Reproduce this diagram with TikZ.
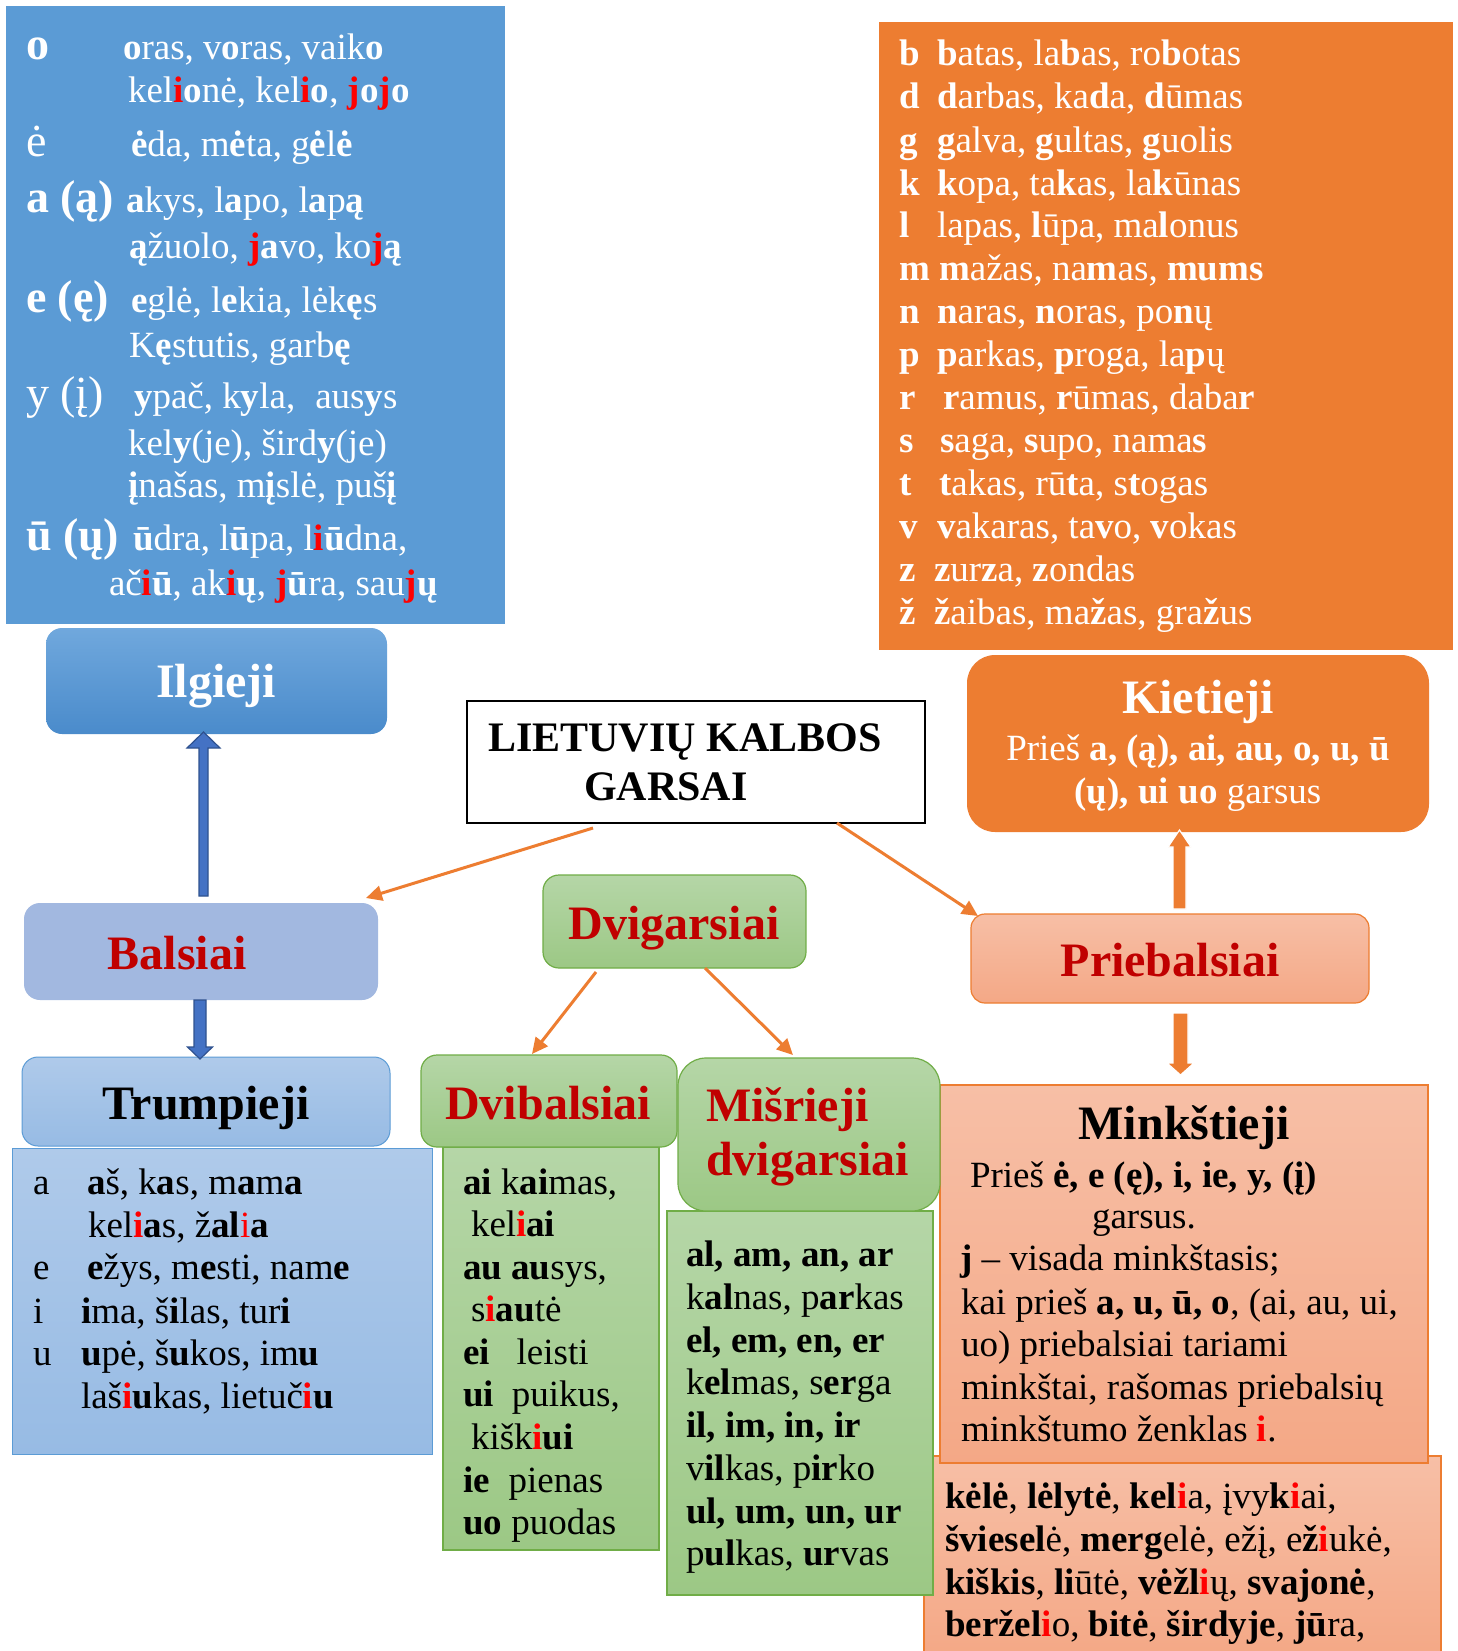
\documentclass[tikz,border=0pt]{standalone}
\usepackage{fontspec}
\setmainfont{Liberation Serif}
\usetikzlibrary{arrows.meta,calc}
\definecolor{vblue}{HTML}{5B9BD5}
\definecolor{ilgT}{HTML}{70A8DD}
\definecolor{ilgB}{HTML}{4A8BCB}
\definecolor{balsC}{HTML}{A2B8E0}
\definecolor{trT}{HTML}{AFCAEA}
\definecolor{trB}{HTML}{97BBE4}
\definecolor{grT}{HTML}{B5D6A7}
\definecolor{grB}{HTML}{9CC885}
\definecolor{grE}{HTML}{70AD47}
\definecolor{org}{HTML}{ED7D31}
\definecolor{slT}{HTML}{F7BFA6}
\definecolor{slB}{HTML}{F4A886}
\definecolor{dred}{HTML}{C00000}
\definecolor{bred}{HTML}{FF0000}
\definecolor{arrB}{HTML}{4472C4}
\definecolor{arrBE}{HTML}{2F528F}
\newcommand\fs[1]{\fontsize{#1}{#1}\selectfont}
\newcommand\bo[1]{\textbf{#1}}
\newcommand\rd[1]{\textcolor{bred}{\textbf{#1}}}
\newcommand\blockup[6]{\path[#1] let \p1=(#2), \p2=(#3) in
  (\x1-#4,\y1) -- (\x1-#4,\y2-#6) -- (\x1-#5,\y2-#6) -- (\x1,\y2) -- (\x1+#5,\y2-#6) -- (\x1+#4,\y2-#6) -- (\x1+#4,\y1) -- cycle;}
\newcommand\blockdown[6]{\path[#1] let \p1=(#2), \p2=(#3) in
  (\x1-#4,\y1) -- (\x1-#4,\y2+#6) -- (\x1-#5,\y2+#6) -- (\x1,\y2) -- (\x1+#5,\y2+#6) -- (\x1+#4,\y2+#6) -- (\x1+#4,\y1) -- cycle;}
\tikzset{
  pbox/.style={anchor=north west, inner sep=0pt, outer sep=0pt},
  greenbox/.style={top color=grT, bottom color=grB, draw=grE, line width=1.2pt},
  salmonbox/.style={top color=slT, bottom color=slB, draw=org, line width=1.2pt},
  lbluebox/.style={top color=trT, bottom color=trB, draw=vblue, line width=1pt},
  txt/.style={anchor=base west, inner sep=0pt, outer sep=0pt, font=\fs{37}},
  wtxt/.style={txt, text=white},
  ctxt/.style={anchor=base, inner sep=0pt, outer sep=0pt, font=\fs{37}},
  head/.style={anchor=base, inner sep=0pt, outer sep=0pt, font=\bfseries\fs{48}},
  lab/.style={anchor=base west, inner sep=0pt, outer sep=0pt, font=\fs{46}, text=white},
  conn/.style={draw=org, line width=3pt, -{Triangle[length=16pt,width=15pt]}},
  barrB/.style={fill=arrB, draw=arrBE, line width=1.2pt},
  barrO/.style={fill=org, draw=white, line width=1.2pt},
}
\begin{document}
\begin{tikzpicture}[x=1pt,y=-1pt]
\useasboundingbox (0,0) rectangle (1458,1651);
\fill[white] (0,0) rectangle (1458,1651);

% ---------- boxes ----------
\node[pbox, minimum width=499pt, minimum height=618pt, fill=vblue] (vbox) at (6,6) {};
\node[pbox, minimum width=574pt, minimum height=628pt, fill=org] (obox) at (879,22) {};
\node[pbox, minimum width=341pt, minimum height=106pt, rounded corners=16pt, top color=ilgT, bottom color=ilgB] (ilg) at (46,628) {};
\node[pbox, minimum width=462pt, minimum height=177pt, rounded corners=28pt, fill=org] (kiet) at (967,655) {};
\node[pbox, minimum width=458pt, minimum height=122pt, draw=black, line width=1.5pt, fill=white] (title) at (467,701) {};
\node[pbox, minimum width=354pt, minimum height=97pt, rounded corners=16pt, fill=balsC] (bals) at (24,903) {};
\node[pbox, minimum width=263pt, minimum height=93pt, rounded corners=16pt, greenbox] (dvig) at (543,875) {};
\node[pbox, minimum width=398pt, minimum height=89pt, rounded corners=14pt, salmonbox] (prieb) at (971,914) {};
\node[pbox, minimum width=368pt, minimum height=89pt, rounded corners=16pt, lbluebox] (trh) at (22,1057) {};
\node[pbox, minimum width=420pt, minimum height=306pt, lbluebox] (trc) at (12,1148) {};
\node[pbox, minimum width=517pt, minimum height=200pt, salmonbox] (ex) at (924,1456) {};
\node[pbox, minimum width=488pt, minimum height=378pt, salmonbox] (mink) at (940,1085) {};
\node[pbox, minimum width=216pt, minimum height=403pt, greenbox] (dvbc) at (443,1147) {};
\node[pbox, minimum width=256pt, minimum height=92pt, rounded corners=16pt, greenbox] (dvbh) at (421,1055) {};
\node[pbox, minimum width=266pt, minimum height=384pt, greenbox] (misc) at (667,1211) {};
\node[pbox, minimum width=262pt, minimum height=153pt, rounded corners=28pt, greenbox] (mish) at (678,1058) {};

% ---------- connectors ----------
\draw[conn] ([xshift=-103pt,yshift=-5pt]title.south) -- ([xshift=-12pt,yshift=5pt]bals.north east);
\draw[conn] ([xshift=141pt]title.south) -- ([xshift=7pt,yshift=-2pt]prieb.north west);
\draw[conn] ([xshift=-78.5pt,yshift=-4pt]dvig.south) -- ([xshift=-17pt,yshift=1pt]dvbh.north);
\draw[conn] ([xshift=30.5pt]dvig.south) -- ([xshift=-16pt,yshift=3pt]mish.north);
\blockup{barrB}{[xshift=2.5pt,yshift=7pt]bals.north}{[yshift=2pt]ilg.south}{4.5pt}{16.5pt}{16pt}
\blockdown{barrB}{[xshift=-1pt]bals.south}{[yshift=-2pt]trh.north}{6pt}{12.5pt}{12pt}
\blockup{barrO}{[xshift=9.5pt,yshift=5pt]prieb.north}{[yshift=2pt]kiet.south}{6.5pt}{11.5pt}{17pt}
\blockdown{barrO}{[xshift=10.5pt,yshift=-10pt]prieb.south}{[yshift=10pt]mink.north}{7.5pt}{13.5pt}{12pt}

% ---------- long vowels (blue box) ----------
\node[lab] (vl1) at (26,60) {\bfseries o};
\node[wtxt] (vw1) at (123,60) {\bo{o}ras, v\bo{o}ras, vaik\bo{o}};
\node[wtxt] (vw2) at (128,103) {kel\rd{i}\bo{o}nė, kel\rd{i}\bo{o}, \rd{j}\bo{o}\rd{j}\bo{o}};
\node[lab] (vl3) at (26,157) {ė};
\node[wtxt] (vw3) at (131,157) {\bo{ė}da, m\bo{ė}ta, g\bo{ė}l\bo{ė}};
\node[lab] (vl4) at (26,212) {\bfseries a (ą)};
\node[wtxt] (vw4) at (126,212) {\bo{a}kys, l\bo{a}po, l\bo{a}p\bo{ą}};
\node[wtxt] (vw5) at (129,258) {\bo{ą}žuolo, \rd{j}\bo{a}vo, ko\rd{j}\bo{ą}};
\node[lab] (vl6) at (26,312) {\bfseries e (ę)};
\node[wtxt] (vw6) at (131,312) {\bo{e}glė, l\bo{e}kia, lėk\bo{ę}s};
\node[wtxt] (vw7) at (129,357) {K\bo{ę}stutis, garb\bo{ę}};
\node[lab] (vl8) at (26,408) {y (į)};
\node[wtxt] (vw8) at (134,408) {\bo{y}pač, k\bo{y}la,\hspace{20pt}aus\bo{y}s};
\node[wtxt] (vw9) at (128,455) {kel\bo{y}(je), šird\bo{y}(je)};
\node[wtxt] (vw10) at (128,497) {\bo{į}našas, m\bo{į}slė, puš\bo{į}};
\node[lab] (vl11) at (26,550) {\bfseries ū (ų)};
\node[wtxt] (vw11) at (133,550) {\bo{ū}dra, l\bo{ū}pa, l\rd{i}\bo{ū}dna,};
\node[wtxt] (vw12) at (109,595) {ač\rd{i}\bo{ū}, ak\rd{i}\bo{ų}, \rd{j}\bo{ū}ra, sau\rd{j}\bo{ų}};

% ---------- consonants (orange box) ----------
\node[wtxt] (cl1) at (899,66) {\bo{b}};
\node[wtxt] (cw1) at (937,66) {\bo{b}atas, la\bo{b}as, ro\bo{b}otas};
\node[wtxt] (cl2) at (899,109) {\bo{d}};
\node[wtxt] (cw2) at (937,109) {\bo{d}arbas, ka\bo{d}a, \bo{d}ūmas};
\node[wtxt] (cl3) at (899,152) {\bo{g}};
\node[wtxt] (cw3) at (937,152) {\bo{g}alva, \bo{g}ultas, \bo{g}uolis};
\node[wtxt] (cl4) at (899,195) {\bo{k}};
\node[wtxt] (cw4) at (937,195) {\bo{k}opa, ta\bo{k}as, la\bo{k}ūnas};
\node[wtxt] (cl5) at (899,237) {\bo{l}};
\node[wtxt] (cw5) at (937,237) {lapas, \bo{l}ūpa, ma\bo{l}onus};
\node[wtxt] (cl6) at (899,280) {\bo{m}};
\node[wtxt] (cw6) at (939,280) {\bo{m}ažas, na\bo{m}as, \bo{mums}};
\node[wtxt] (cl7) at (899,323) {\bo{n}};
\node[wtxt] (cw7) at (937,323) {\bo{n}aras, \bo{n}oras, po\bo{n}ų};
\node[wtxt] (cl8) at (899,366) {\bo{p}};
\node[wtxt] (cw8) at (937,366) {\bo{p}arkas, \bo{p}roga, la\bo{p}ų};
\node[wtxt] (cl9) at (899,409) {\bo{r}};
\node[wtxt] (cw9) at (943,409) {\bo{r}amus, \bo{r}ūmas, daba\bo{r}};
\node[wtxt] (cl10) at (899,452) {\bo{s}};
\node[wtxt] (cw10) at (940,452) {\bo{s}aga, \bo{s}upo, nama\bo{s}};
\node[wtxt] (cl11) at (899,495) {\bo{t}};
\node[wtxt] (cw11) at (939,495) {\bo{t}akas, rū\bo{t}a, s\bo{t}ogas};
\node[wtxt] (cl12) at (899,538) {\bo{v}};
\node[wtxt] (cw12) at (937,538) {\bo{v}akaras, ta\bo{v}o, \bo{v}okas};
\node[wtxt] (cl13) at (899,581) {\bo{z}};
\node[wtxt] (cw13) at (934,581) {\bo{z}ur\bo{z}a, \bo{z}ondas};
\node[wtxt] (cl14) at (899,624) {\bo{ž}};
\node[wtxt] (cw14) at (934,624) {\bo{ž}aibas, ma\bo{ž}as, gra\bo{ž}us};

% ---------- headers ----------
\node[head, text=white] (tilg) at (216,697) {Ilgieji};
\node[anchor=base west, inner sep=0pt, font=\bfseries\fs{42}] (ttl1) at (488,751) {LIETUVIŲ KALBOS};
\node[anchor=base west, inner sep=0pt, font=\bfseries\fs{42}] (ttl2) at (584,800) {GARSAI};
\node[head, text=white] (tkiet) at (1198,713) {Kietieji};
\node[ctxt, text=white] (tkiet2) at (1198,760) {Prieš \bo{a, (ą), ai, au, o, u, ū}};
\node[ctxt, text=white] (tkiet3) at (1198,803) {\bo{(ų), ui uo} garsus};
\node[head, text=dred] (tbals) at (177,969) {Balsiai};
\node[head, text=dred] (tdvig) at (674,939) {Dvigarsiai};
\node[head, text=dred] (tprieb) at (1170,976) {Priebalsiai};
\node[head] (ttrh) at (206,1119) {Trumpieji};
\node[head, text=dred] (tdvbh) at (548,1119) {Dvibalsiai};
\node[head, anchor=base west, text=dred] (tmish1) at (706,1121) {Mišrieji};
\node[head, anchor=base west, text=dred] (tmish2) at (706,1175) {dvigarsiai};
\node[head] (tmink) at (1184,1139) {Minkštieji};

% ---------- short vowels ----------
\node[txt] (sl1) at (33,1194) {a};
\node[txt] (sw1) at (87,1194) {\bo{a}š, k\bo{a}s, m\bo{a}m\bo{a}};
\node[txt] (sw2) at (88,1237) {kel\rd{i}\bo{a}s, ž\bo{al}\textcolor{bred}{i}\bo{a}};
\node[txt] (sl3) at (33,1279) {e};
\node[txt] (sw3) at (87,1279) {\bo{e}žys, m\bo{e}sti, nam\bo{e}};
\node[txt] (sl4) at (33,1323) {i};
\node[txt] (sw4) at (81,1323) {\bo{i}ma, š\bo{i}las, tur\bo{i}};
\node[txt] (sl5) at (33,1365) {u};
\node[txt] (sw5) at (81,1365) {\bo{u}pė, š\bo{u}kos, im\bo{u}};
\node[txt] (sw6) at (81,1408) {laš\rd{i}\bo{u}kas, lietuč\rd{i}\bo{u}};

% ---------- diphthongs ----------
\node[txt] (dw1) at (463,1194) {\bo{ai} k\bo{ai}mas,};
\node[txt] (dw2) at (471,1236) {kel\rd{i}\bo{ai}};
\node[txt] (dw3) at (463,1279) {\bo{au} \bo{au}sys,};
\node[txt] (dw4) at (471,1321) {s\rd{i}\bo{au}tė};
\node[txt] (dw5) at (463,1364) {\bo{ei}\hspace{27pt}leisti};
\node[txt] (dw6) at (463,1406) {\bo{ui}\hspace{18pt}puikus,};
\node[txt] (dw7) at (471,1449) {kišk\rd{i}\bo{ui}};
\node[txt] (dw8) at (463,1492) {\bo{ie}\hspace{19pt}pienas};
\node[txt] (dw9) at (463,1534) {\bo{uo} puodas};

% ---------- mixed diphthongs ----------
\node[txt] (mw1) at (686,1266) {\bo{al, am, an, ar}};
\node[txt] (mw2) at (686,1309) {k\bo{al}nas, p\bo{ar}kas};
\node[txt] (mw3) at (686,1352) {\bo{el, em, en, er}};
\node[txt] (mw4) at (686,1394) {k\bo{el}mas, s\bo{er}ga};
\node[txt] (mw5) at (686,1437) {\bo{il, im, in, ir}};
\node[txt] (mw6) at (686,1480) {v\bo{il}kas, p\bo{ir}ko};
\node[txt] (mw7) at (686,1523) {\bo{ul, um, un, ur}};
\node[txt] (mw8) at (686,1565) {p\bo{ul}kas, \bo{ur}vas};

% ---------- soft consonants ----------
\node[txt] (kw1) at (970,1187) {Prieš \bo{ė, e (ę), i, ie, y, (į)}};
\node[txt] (kw2) at (1092,1228) {garsus.};
\node[txt] (kw3) at (960,1270) {\bo{j} – visada minkštasis;};
\node[txt] (kw4) at (961,1314) {kai prieš \bo{a, u, ū, o}, (ai, au, ui,};
\node[txt] (kw5) at (961,1356) {uo) priebalsiai tariami};
\node[txt] (kw6) at (961,1399) {minkštai, rašomas priebalsių};
\node[txt] (kw7) at (961,1441) {minkštumo ženklas \rd{i}.};

\node[txt] (ew1) at (945,1508) {\bo{kėlė}, \bo{lėlytė}, \bo{kel}\rd{i}a, įvy\bo{k}\rd{i}ai,};
\node[txt] (ew2) at (945,1551) {\bo{šviesel}ė, \bo{merg}elė, ežį, e\bo{ž}\rd{i}ukė,};
\node[txt] (ew3) at (945,1594) {\bo{kiškis}, \bo{li}ūtė, \bo{vėžl}\rd{i}ų, \bo{svajonė},};
\node[txt] (ew4) at (945,1636) {\bo{beržel}\rd{i}o, \bo{bitė}, \bo{širdyje}, \bo{jū}ra,};
\end{tikzpicture}
\end{document}
